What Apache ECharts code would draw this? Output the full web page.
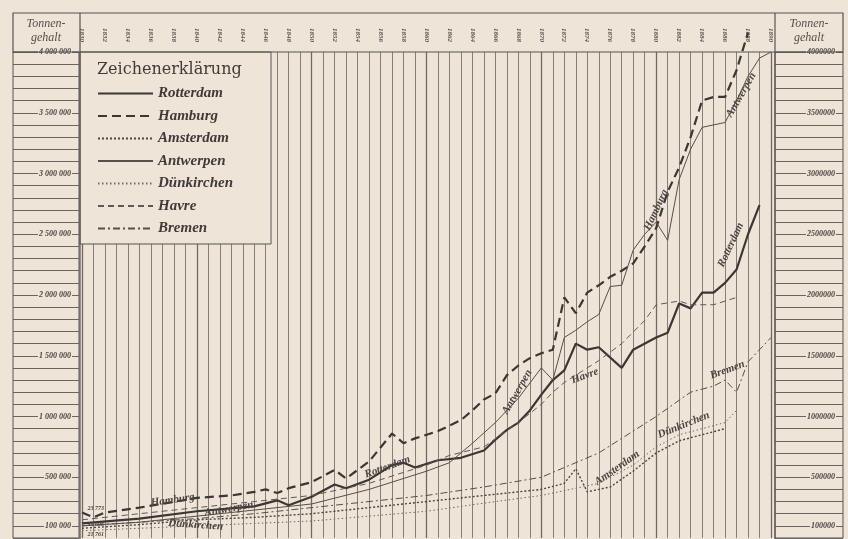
<!DOCTYPE html>
<html>
<head>
<meta charset="utf-8">
<script src="https://cdn.jsdelivr.net/npm/echarts@6/dist/echarts.min.js"></script>
<style>
  html, body { margin: 0; padding: 0; background: #efe4d8; }
  #chart { width: 848px; height: 539px; }
</style>
</head>
<body>
<div id="chart"></div>
<script>
// Tonnengehalt in 1000 t
const rotterdamYears = [1830, 1835, 1840, 1845, 1847, 1848, 1850, 1852, 1853, 1855, 1857, 1858, 1859, 1861, 1863, 1865, 1866, 1867, 1868, 1869, 1870, 1871, 1872, 1873, 1874, 1875, 1877, 1878, 1880, 1881, 1882, 1883, 1884, 1885, 1886, 1887, 1888, 1889];
const rotterdamTons = [120, 160, 220, 260, 310, 270, 340, 440, 410, 480, 600, 620, 580, 640, 660, 720, 810, 890, 950, 1050, 1180, 1300, 1380, 1600, 1550, 1570, 1400, 1550, 1650, 1690, 1930, 1890, 2020, 2020, 2100, 2210, 2500, 2740];

const hamburgYears = [1830, 1831, 1832, 1835, 1840, 1843, 1845, 1846, 1847, 1848, 1850, 1852, 1853, 1855, 1857, 1858, 1859, 1861, 1863, 1864, 1865, 1866, 1867, 1868, 1869, 1870, 1871, 1872, 1873, 1874, 1875, 1876, 1877, 1878, 1879, 1880, 1881, 1882, 1883, 1884, 1885, 1886, 1887, 1888];
const hamburgTons = [210, 170, 210, 250, 330, 350, 380, 400, 370, 410, 460, 560, 490, 630, 860, 780, 820, 880, 970, 1050, 1140, 1190, 1340, 1420, 1480, 1520, 1550, 1980, 1850, 2020, 2080, 2150, 2200, 2260, 2400, 2550, 2850, 3050, 3300, 3600, 3630, 3630, 3850, 4160];

const amsterdamYears = [1830, 1835, 1840, 1845, 1850, 1855, 1860, 1865, 1870, 1872, 1873, 1874, 1876, 1878, 1880, 1882, 1884, 1886];
const amsterdamTons = [80, 110, 150, 170, 200, 250, 300, 350, 400, 450, 570, 380, 420, 550, 700, 800, 850, 900];

const antwerpenYears = [1830, 1835, 1840, 1845, 1850, 1855, 1860, 1862, 1864, 1866, 1868, 1870, 1871, 1872, 1873, 1874, 1875, 1876, 1877, 1878, 1879, 1880, 1881, 1882, 1883, 1884, 1885, 1886, 1887, 1888, 1889, 1890];
const antwerpenTons = [100, 130, 180, 230, 280, 400, 550, 620, 780, 950, 1150, 1400, 1300, 1650, 1710, 1780, 1840, 2070, 2080, 2370, 2500, 2600, 2450, 2950, 3200, 3380, 3400, 3420, 3600, 3800, 3950, 4000];

const duenkirchenYears = [1830, 1835, 1840, 1845, 1850, 1855, 1860, 1866, 1870, 1875, 1878, 1880, 1882, 1884, 1886, 1887];
const duenkirchenTons = [60, 80, 100, 120, 140, 180, 220, 300, 350, 450, 600, 750, 850, 900, 950, 1050];

const havreYears = [1830, 1835, 1840, 1845, 1850, 1855, 1860, 1862, 1865, 1868, 1870, 1871, 1872, 1875, 1877, 1879, 1880, 1882, 1883, 1885, 1887];
const havreTons = [150, 200, 250, 300, 350, 450, 600, 680, 750, 950, 1100, 1200, 1280, 1460, 1600, 1790, 1920, 1950, 1920, 1920, 1980];

const bremenYears = [1830, 1835, 1840, 1845, 1850, 1855, 1860, 1865, 1870, 1875, 1880, 1883, 1885, 1886, 1887, 1888, 1889, 1890];
const bremenTons = [100, 130, 160, 200, 250, 300, 350, 420, 500, 700, 1000, 1200, 1250, 1300, 1200, 1450, 1550, 1650];

const portNames = ['Rotterdam', 'Hamburg', 'Amsterdam', 'Antwerpen', 'Dünkirchen', 'Havre', 'Bremen'];

// Beschriftungen an den Linien: [Name, Jahr, 1000 t, Drehung]
const lineLabels = [
  ['Hamburg', 1837.9, 313, 8],
  ['Antwerpen', 1842.8, 239, 10],
  ['Dünkirchen', 1839.9, 107, -4],
  ['Rotterdam', 1856.6, 584, 20],
  ['Antwerpen', 1867.9, 1202, 60],
  ['Havre', 1873.8, 1333, 20],
  ['Amsterdam', 1876.6, 576, 35],
  ['Dünkirchen', 1882.4, 930, 22],
  ['Bremen', 1886.2, 1383, 20],
  ['Hamburg', 1880.0, 2700, 65],
  ['Rotterdam', 1886.5, 2412, 65],
  ['Antwerpen', 1887.4, 3646, 60]
];
const startLabels = [['23 773', 1831.2, 245], ['40 696', 1831.2, 115], ['21 761', 1831.2, 33]];

const paper = '#efe4d8';
const ink = '#3b3734';

function pairs(xs, ys) {
  return xs.map((x, i) => [x, ys[i]]);
}

function spaced(v) {
  return String(v).replace(/\B(?=(\d{3})+(?!\d))/g, ' ');
}

const styles = {
  Rotterdam: { color: ink, width: 2.2, type: 'solid' },
  Hamburg: { color: ink, width: 2.2, type: [9, 5] },
  Amsterdam: { color: '#4a4643', width: 1.4, type: [2, 2] },
  Antwerpen: { color: '#55504c', width: 1, type: 'solid' },
  'Dünkirchen': { color: '#6e6964', width: 1, type: [1.5, 2.5] },
  Havre: { color: '#5e5955', width: 1, type: [6, 4] },
  Bremen: { color: '#55504c', width: 1, type: [7, 3, 2, 3] }
};

const seriesData = {
  Rotterdam: pairs(rotterdamYears, rotterdamTons),
  Hamburg: pairs(hamburgYears, hamburgTons),
  Amsterdam: pairs(amsterdamYears, amsterdamTons),
  Antwerpen: pairs(antwerpenYears, antwerpenTons),
  'Dünkirchen': pairs(duenkirchenYears, duenkirchenTons),
  Havre: pairs(havreYears, havreTons),
  Bremen: pairs(bremenYears, bremenTons)
};

const labelFont = {
  fontFamily: 'Liberation Serif',
  fontStyle: 'italic',
  fontWeight: 'bold',
  color: '#4a4542'
};

const series = portNames.map(name => ({
  name: name,
  type: 'line',
  xAxisIndex: 0,
  yAxisIndex: 0,
  symbol: 'none',
  clip: false,
  lineStyle: styles[name],
  itemStyle: { color: styles[name].color },
  data: seriesData[name],
  z: 3
}));

// Beschriftungen als Markierungen ohne Symbol
series.push({
  name: 'labels',
  type: 'line',
  xAxisIndex: 0,
  yAxisIndex: 0,
  data: [],
  markPoint: {
    symbol: 'circle',
    symbolSize: 0,
    silent: true,
    data: lineLabels.map(l => ({
      name: l[0],
      coord: [l[1], l[2]],
      label: {
        show: true,
        position: 'inside',
        formatter: '{b}',
        rotate: l[3],
        fontSize: 11,
        ...labelFont
      }
    })).concat(startLabels.map(s => ({
      name: s[0],
      coord: [s[1], s[2]],
      label: {
        show: true,
        position: 'inside',
        formatter: '{b}',
        fontSize: 6,
        ...labelFont
      }
    })))
  }
});

const gridTop = 52;
const gridBottom = 1;

const headerText = {
  text: 'Tonnen-\ngehalt', fontSize: 12, lineHeight: 14,
  fontFamily: 'Liberation Serif', fontStyle: 'italic',
  fill: '#55504c', align: 'center', verticalAlign: 'top'
};

const chart = echarts.init(document.getElementById('chart'));
chart.setOption({
  backgroundColor: paper,
  animation: false,
  grid: [
    { left: 82, right: 77, top: gridTop, bottom: gridBottom },
    { left: 13, width: 66, top: gridTop, bottom: gridBottom, show: true, borderColor: '#555', borderWidth: 1 },
    { left: 775, right: 5, top: gridTop, bottom: gridBottom, show: true, borderColor: '#555', borderWidth: 1 }
  ],
  xAxis: [
    {
      type: 'value', gridIndex: 0, min: 1830, max: 1890, interval: 10,
      axisLine: { show: false }, axisTick: { show: false }, axisLabel: { show: false },
      splitLine: { show: true, lineStyle: { color: '#6f6964', width: 1.3 } },
      minorTick: { show: false, splitNumber: 10 },
      minorSplitLine: { show: true, lineStyle: { color: '#857f79', width: 1 } }
    },
    {
      type: 'value', gridIndex: 0, position: 'top', min: 1830, max: 1890, interval: 2,
      axisLine: { show: false }, axisTick: { show: false }, splitLine: { show: false },
      axisLabel: {
        rotate: 90, margin: 10, fontSize: 7, color: '#5a5550',
        fontFamily: 'Liberation Serif', fontStyle: 'italic', fontWeight: 'bold',
        formatter: v => String(v)
      }
    },
    { type: 'value', gridIndex: 1, show: false },
    { type: 'value', gridIndex: 2, show: false }
  ],
  yAxis: [
    { type: 'value', gridIndex: 0, min: 0, max: 4000, show: false },
    {
      type: 'value', gridIndex: 1, min: 0, max: 4000, interval: 100,
      axisLine: { show: false }, axisTick: { show: false },
      splitLine: { show: true, lineStyle: { color: '#6a6560', width: 1 } },
      axisLabel: {
        inside: true, margin: 59, align: 'right', fontSize: 8, color: '#4a4542',
        fontFamily: 'Liberation Serif', fontStyle: 'italic', fontWeight: 'bold',
        backgroundColor: paper, padding: [0, 1],
        formatter: v => (v > 0 && (v % 500 === 0 || v === 100)) ? spaced(v * 1000) : ''
      }
    },
    {
      type: 'value', gridIndex: 2, min: 0, max: 4000, interval: 100,
      axisLine: { show: false }, axisTick: { show: false },
      splitLine: { show: true, lineStyle: { color: '#6a6560', width: 1 } },
      axisLabel: {
        inside: true, margin: 61, align: 'right', fontSize: 8, color: '#4a4542',
        fontFamily: 'Liberation Serif', fontStyle: 'italic', fontWeight: 'bold',
        backgroundColor: paper, padding: [0, 1],
        formatter: v => (v > 0 && (v % 500 === 0 || v === 100)) ? String(v * 1000) : ''
      }
    }
  ],
  legend: {
    data: portNames,
    orient: 'vertical',
    left: 80,
    top: 52,
    padding: [34, 38, 8, 17],
    itemWidth: 55,
    itemHeight: 14,
    itemGap: 7.5,
    itemStyle: { opacity: 0 },
    backgroundColor: paper,
    borderColor: '#555',
    borderWidth: 1,
    textStyle: { fontSize: 15, ...labelFont, color: '#3f3b38' },
    z: 10
  },
  graphic: [
    {
      type: 'rect', z: 20, silent: true,
      shape: { x: 13, y: 13, width: 830, height: 39 },
      style: { fill: 'none', stroke: '#555', lineWidth: 1.2 }
    },
    {
      type: 'line', z: 20, silent: true,
      shape: { x1: 80, y1: 13, x2: 80, y2: 539 },
      style: { stroke: '#555', lineWidth: 1.2 }
    },
    {
      type: 'line', z: 20, silent: true,
      shape: { x1: 775, y1: 13, x2: 775, y2: 539 },
      style: { stroke: '#555', lineWidth: 1.2 }
    },
    { type: 'text', z: 20, x: 46, y: 17, style: headerText },
    { type: 'text', z: 20, x: 809, y: 17, style: headerText },
    {
      type: 'text', z: 30, left: 97, top: 62,
      style: { text: 'Zeichenerklärung', fontSize: 16, fontFamily: 'DejaVu Serif', fill: '#3f3b38' }
    }
  ],
  series: series
});
</script>
</body>
</html>
